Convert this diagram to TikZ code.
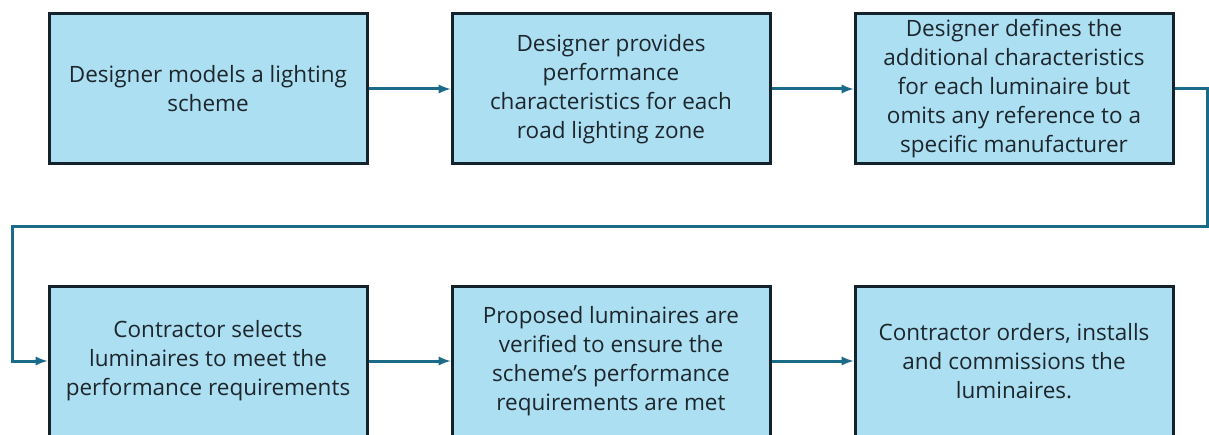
\documentclass[tikz,border=0pt]{standalone}
\usepackage{fontspec}
\setmainfont{Open Sans}
\definecolor{boxfill}{HTML}{ADDFF2}
\definecolor{boxline}{HTML}{14222B}
\definecolor{flowline}{HTML}{1A6A8A}
\definecolor{boxtext}{HTML}{1C262C}
\tikzset{>=latex}
\tikzset{
  stepbox/.style = {draw=boxline, fill=boxfill, line width=3pt,
    minimum width=318pt, minimum height=150pt, inner sep=0pt,
    align=center, text=boxtext, font=\fontsize{22.5}{29}\selectfont},
  flow/.style = {->, draw=flowline, line width=3pt}
}

\begin{document}
\begin{tikzpicture}[x=1pt,y=1pt]
  \useasboundingbox (0,0) rectangle (1209,434);
  % top row
  \node[stepbox] (models) at (208,345) {Designer models a lighting\\scheme};
  \node[stepbox] (perf) at (611,345) {Designer provides\\performance\\characteristics for each\\road lighting zone};
  \node[stepbox] (define) at (1014,345) {Designer defines the\\additional characteristics\\for each luminaire but\\omits any reference to a\\specific manufacturer};
  % bottom row
  \node[stepbox] (select) at (208,73) {Contractor selects\\luminaires to meet the\\performance requirements};
  \node[stepbox] (verify) at (611,73) {Proposed luminaires are\\verified to ensure the\\scheme’s performance\\requirements are met};
  \node[stepbox] (order) at (1014,73) {Contractor orders, installs\\and commissions the\\luminaires.};
  % connectors
  \draw[flow] (models) -- (perf);
  \draw[flow] (perf) -- (define);
  \draw[flow] (define.east) -- (1207,345) |- (12,207) |- (select.west);
  \draw[flow] (select) -- (verify);
  \draw[flow] (verify) -- (order);
\end{tikzpicture}
\end{document}
